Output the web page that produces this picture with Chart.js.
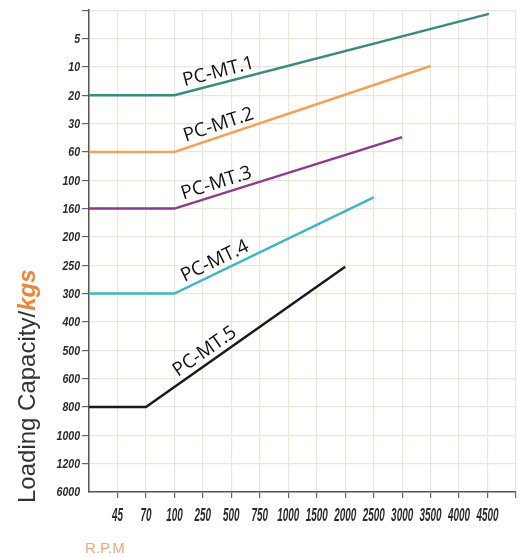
<!DOCTYPE html>
<html>
<head>
<meta charset="utf-8">
<script src="https://cdn.jsdelivr.net/npm/chart.js@4"></script>
<style>
  html, body { margin: 0; padding: 0; background: #fff; }
  #wrap { width: 521px; height: 557px; }
</style>
</head>
<body>
<div id="wrap"><canvas id="chart"></canvas></div>
<script>
// tick labels (the axes are not numeric, each label sits on one grid step)
const rpmLabels = ['45', '70', '100', '250', '500', '750', '1000', '1500', '2000', '2500', '3000', '3500', '4000', '4500'];
const loadLabels = ['5', '10', '20', '30', '60', '100', '160', '200', '250', '300', '400', '500', '600', '800', '1000', '1200', '6000'];

// series, in grid steps: x 0 = origin, 1 = '45' ... ; y 0 = top, 1 = '5' ...
const seriesNames = ['PC-MT.1', 'PC-MT.2', 'PC-MT.3', 'PC-MT.4', 'PC-MT.5'];
const mt1X = [0, 3, 14.05];
const mt1Y = [3, 3, 0.13];
const mt2X = [0, 3, 12];
const mt2Y = [5, 5, 1.97];
const mt3X = [0, 3, 11];
const mt3Y = [7, 7, 4.48];
const mt4X = [0, 3, 10];
const mt4Y = [10, 10, 6.6];
const mt5X = [0, 2, 9];
const mt5Y = [14, 14, 9.05];

const seriesColors = ['#3b8a82', '#f2a35a', '#8c3a8c', '#3fb5c5', '#1b1b1b'];
// where the name sits along the rising part (x in grid steps)
const labelAt = [4.65, 4.68, 4.6, 4.6, 4.3];

const xs = [mt1X, mt2X, mt3X, mt4X, mt5X];
const ys = [mt1Y, mt2Y, mt3Y, mt4Y, mt5Y];

const datasets = seriesNames.map((name, i) => ({
  label: name,
  data: xs[i].map((x, j) => ({ x: x, y: ys[i][j] })),
  borderColor: seriesColors[i],
  borderWidth: 2.5,
  pointRadius: 0,
  tension: 0,
  fill: false
}));

// names written along the lines
const lineNames = {
  id: 'lineNames',
  afterDatasetsDraw(chart) {
    const ctx = chart.ctx;
    const sx = chart.scales.x, sy = chart.scales.y;
    ctx.save();
    ctx.font = '19px "Open Sans", sans-serif';
    ctx.fillStyle = '#111';
    ctx.textAlign = 'center';
    ctx.textBaseline = 'bottom';
    seriesNames.forEach((name, i) => {
      const x = xs[i], y = ys[i];
      const x1 = sx.getPixelForValue(x[1]), y1 = sy.getPixelForValue(y[1]);
      const x2 = sx.getPixelForValue(x[2]), y2 = sy.getPixelForValue(y[2]);
      const px = sx.getPixelForValue(labelAt[i]);
      const py = y1 + (px - x1) * (y2 - y1) / (x2 - x1);
      const ang = Math.atan2(y2 - y1, x2 - x1);
      ctx.save();
      ctx.translate(px, py);
      ctx.rotate(ang);
      ctx.fillText(name, 0, -2);
      ctx.restore();
    });
    ctx.restore();
  }
};

// the tick labels use a squeezed bold italic face, so they are drawn here
// at the positions given by the scales
const squeezedTicks = {
  id: 'squeezedTicks',
  afterDraw(chart) {
    const ctx = chart.ctx;
    const sx = chart.scales.x, sy = chart.scales.y;
    ctx.save();
    ctx.fillStyle = '#2b2b2b';
    ctx.textBaseline = 'alphabetic';
    ctx.font = 'italic bold 18px "Liberation Sans", Arial, sans-serif';
    ctx.textAlign = 'center';
    rpmLabels.forEach((lab, i) => {
      const px = sx.getPixelForValue(i + 1);
      ctx.save();
      ctx.translate(px, 521);
      ctx.scale(0.55, 1);
      ctx.fillText(lab, 0, 0);
      ctx.restore();
    });
    ctx.font = 'italic bold 12px "Liberation Sans", Arial, sans-serif';
    ctx.textAlign = 'right';
    loadLabels.forEach((lab, i) => {
      const py = sy.getPixelForValue(i + 1);
      ctx.save();
      ctx.translate(80, py + 4.3);
      ctx.scale(0.88, 1);
      ctx.fillText(lab, 0, 0);
      ctx.restore();
    });
    ctx.restore();
  }
};

// axis titles
const axisTitles = {
  id: 'axisTitles',
  afterDraw(chart) {
    const ctx = chart.ctx;
    ctx.save();
    ctx.translate(35, 503);
    ctx.rotate(-Math.PI / 2);
    ctx.textBaseline = 'alphabetic';
    ctx.textAlign = 'left';
    ctx.font = '24px "Liberation Sans", Arial, sans-serif';
    ctx.fillStyle = '#333';
    const part1 = 'Loading Capacity/';
    ctx.fillText(part1, 0, 0);
    const w = ctx.measureText(part1).width;
    ctx.font = 'italic bold 24px "Liberation Sans", Arial, sans-serif';
    ctx.fillStyle = '#e8863a';
    ctx.fillText('kgs', w, 0);
    ctx.restore();

    ctx.save();
    ctx.font = '15px "Liberation Sans", Arial, sans-serif';
    ctx.fillStyle = '#e9ab82';
    ctx.textAlign = 'left';
    ctx.textBaseline = 'alphabetic';
    ctx.fillText('R.P.M', 85, 553);
    ctx.restore();
  }
};

const gridColor = '#e9e7d8';
const tickMark = c => (c.index === 0 ? 'rgba(0,0,0,0)' : '#666');

new Chart(document.getElementById('chart'), {
  type: 'line',
  data: { datasets: datasets },
  options: {
    responsive: true,
    maintainAspectRatio: false,
    animation: false,
    layout: { padding: { top: 10, right: 5, left: 0, bottom: 0 } },
    plugins: {
      legend: { display: false },
      tooltip: { enabled: false }
    },
    scales: {
      x: {
        type: 'linear',
        min: 0,
        max: 15,
        afterFit: s => { s.height = 65; },
        border: { color: '#555', width: 1.5 },
        grid: { color: gridColor, lineWidth: 1.2, tickColor: tickMark, tickLength: 6 },
        ticks: { stepSize: 1, autoSkip: false, maxRotation: 0, callback: () => '' }
      },
      y: {
        type: 'linear',
        reverse: true,
        min: 0,
        max: 17,
        afterFit: s => { s.width = 89; },
        border: { color: '#555', width: 1.5 },
        grid: { color: gridColor, lineWidth: 1.2, tickColor: tickMark, tickLength: 7 },
        ticks: { stepSize: 1, autoSkip: false, callback: () => '' }
      }
    }
  },
  plugins: [lineNames, squeezedTicks, axisTitles]
});
</script>
</body>
</html>
